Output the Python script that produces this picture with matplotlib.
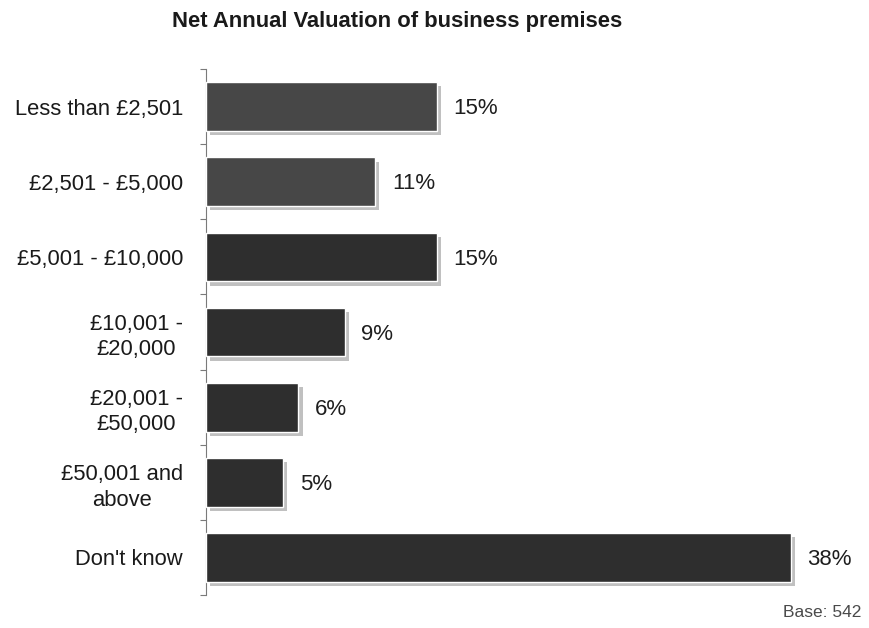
import matplotlib
matplotlib.use("Agg")
import matplotlib.pyplot as plt
import matplotlib.patheffects as pe

categories = [
    "Less than £2,501",
    "£2,501 - £5,000",
    "£5,001 - £10,000",
    "£10,001 -\n£20,000",
    "£20,001 -\n£50,000",
    "£50,001 and\nabove",
    "Don't know",
]
values = [15, 11, 15, 9, 6, 5, 38]
bar_colors = ["#474747", "#474747", "#2e2e2e", "#2e2e2e", "#2e2e2e", "#2e2e2e", "#2e2e2e"]
title = "Net Annual Valuation of business premises"
base_note = "Base: 542"

plt.rcParams["font.family"] = ["Liberation Sans", "DejaVu Sans"]

fig = plt.figure(figsize=(8.7, 6.28), dpi=100)
ax = fig.add_axes([0.2368, 0.0525, 0.7517, 0.8375])

y = list(range(len(categories)))
bars = ax.barh(y, values, height=0.65, color=bar_colors, edgecolor="white",
               linewidth=1.0, zorder=3)
for b in bars:
    b.set_path_effects([
        pe.SimplePatchShadow(offset=(3, -3), shadow_rgbFace="#c0c0c0", alpha=1.0),
        pe.Normal(),
    ])

for yi, v in zip(y, values):
    ax.annotate(f"{v}%", xy=(v, yi), xytext=(12, -1.5), textcoords="offset points",
                va="center", ha="left", fontsize=16, color="#1e1e1e")

ax.set_xlim(0, 42.5)
ax.set_ylim(len(categories) - 0.5, -0.5)

ax.set_yticks(y)
ax.set_yticklabels(categories, fontsize=15.8, color="#1a1a1a",
                   multialignment="center", linespacing=1.3)
ax.set_yticks([i - 0.5 for i in range(len(categories) + 1)], minor=True)
ax.tick_params(axis="y", which="major", length=0, pad=16.5)
ax.tick_params(axis="y", which="minor", length=4, width=0.8, color="#7a7a7a")
ax.set_xticks([])

for side in ("top", "right", "bottom"):
    ax.spines[side].set_visible(False)
ax.spines["left"].set_color("#7a7a7a")
ax.spines["left"].set_linewidth(0.8)

fig.text(0.457, 0.966, title, ha="center", va="center", fontsize=15.8,
         fontweight="bold", color="#1a1a1a")
fig.text(0.99, 0.024, base_note, ha="right", va="center", fontsize=12.5,
         color="#4a4a4a")

fig.savefig("out.png", dpi=100)
